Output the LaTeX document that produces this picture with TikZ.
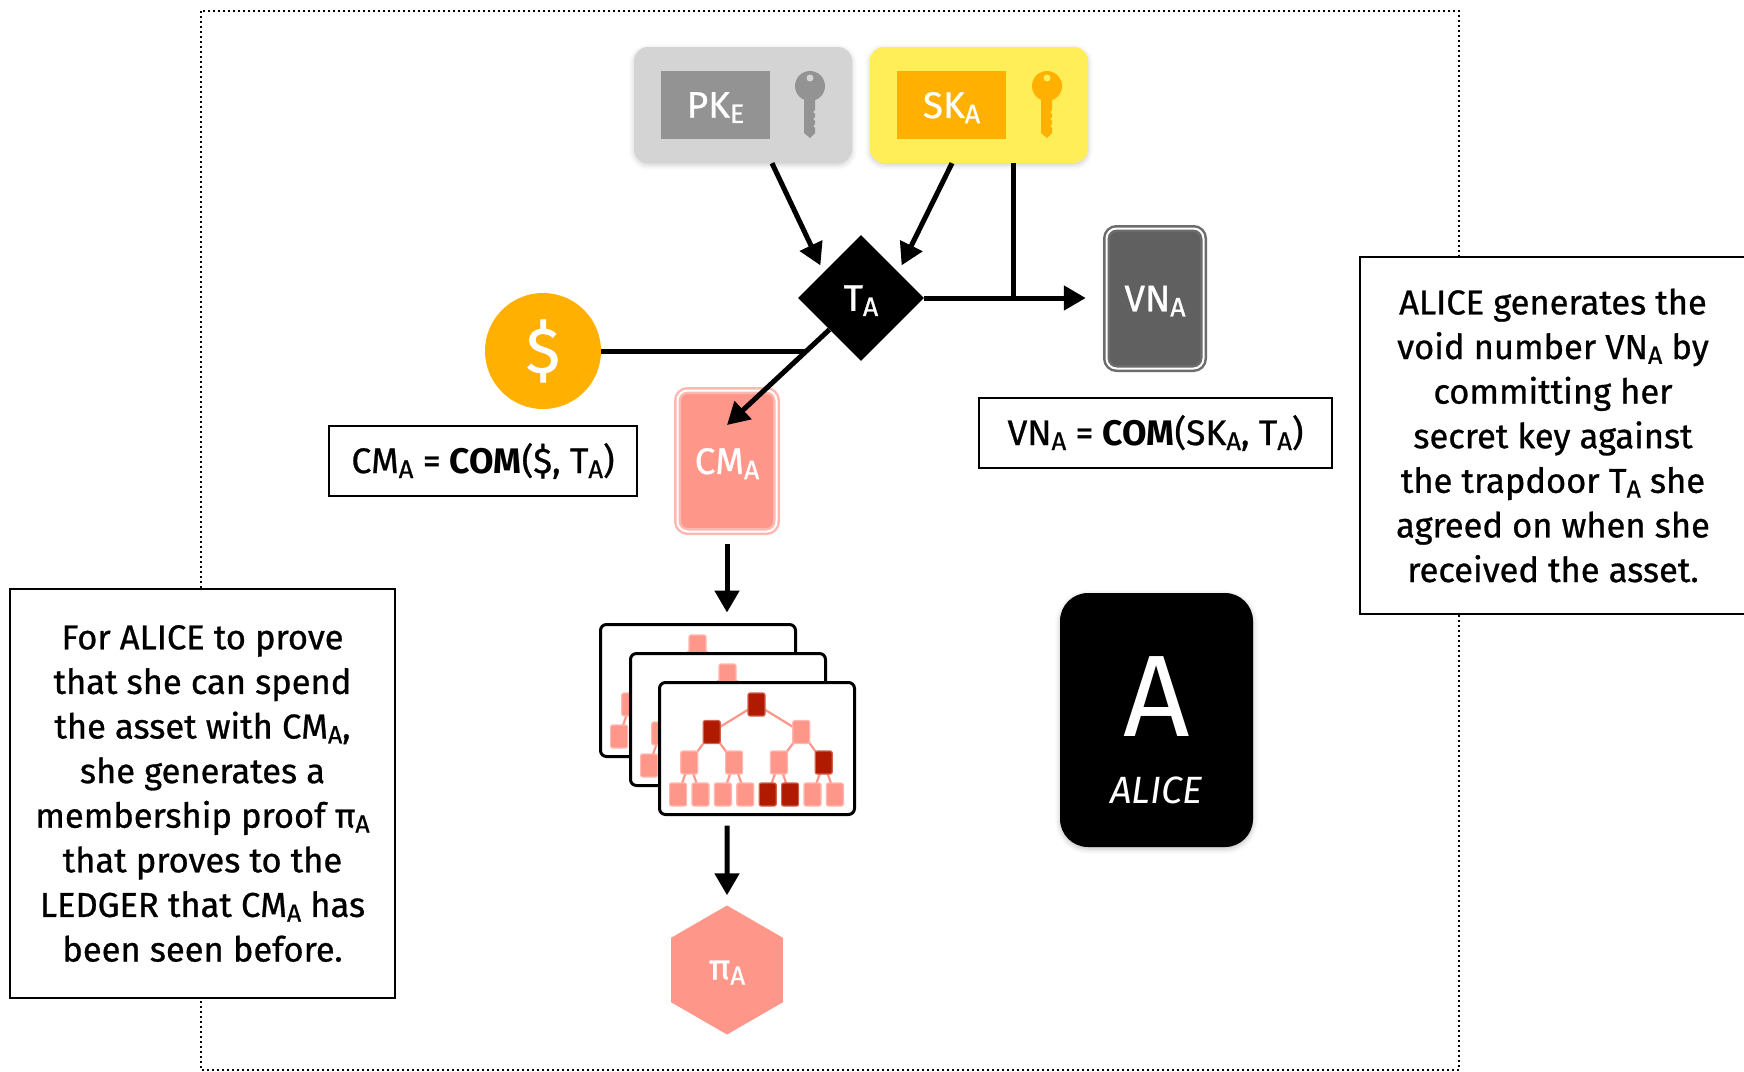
\documentclass[tikz,border=0pt]{standalone}
\usepackage{fontspec}
\setmainfont{Fira Sans}[UprightFeatures={FakeBold=0.8}]
\newfontfamily\plainfont{Fira Sans}
\usetikzlibrary{arrows.meta,calc,positioning,shapes.geometric,shadows.blur}

\definecolor{pkbg}{HTML}{D4D4D4}
\definecolor{pkgray}{HTML}{939393}
\definecolor{skbg}{HTML}{FFEE58}
\definecolor{gold}{HTML}{FFB000}
\definecolor{salmon}{HTML}{FF968A}
\definecolor{salmonedge}{HTML}{FFB8B0}
\definecolor{deepred}{HTML}{B01A00}
\definecolor{deepedge}{HTML}{D0604E}
\definecolor{vngray}{HTML}{606060}
\definecolor{vnedge}{HTML}{6C6C6C}

% small lowered index letter
\newcommand{\idx}[1]{\raisebox{-0.14em}{\scalebox{0.72}{#1}}}

\begin{document}
\begin{tikzpicture}[x=1pt,y=-1pt,>={Triangle[length=22pt,width=24pt]},
  wire/.style={line width=5pt},
  keybox/.style={rounded corners=14pt,minimum width=218pt,minimum height=116pt,
    blur shadow={shadow xshift=0pt,shadow yshift=-2pt,shadow blur radius=5pt,shadow opacity=20}},
  keytag/.style={minimum width=109pt,minimum height=68pt,text depth=0pt,text=white,font=\fontsize{37}{40}\selectfont},
  card/.style={rounded corners=10pt,line width=2.5pt,double=white,double distance=2pt,
    text depth=0pt,text=white,font=\fontsize{37}{40}\selectfont},
  formula/.style={draw,line width=2.5pt,minimum height=70pt,font=\fontsize{35.5}{40}\selectfont},
  note/.style={draw,line width=2.5pt,fill=white,align=center,font=\fontsize{34.5}{44.6}\selectfont},
  treecard/.style={draw,fill=white,line width=3pt,rounded corners=6pt,minimum width=195pt,minimum height=132pt},
  leaf/.style={draw=salmonedge,fill=salmon,line width=1.2pt,rounded corners=2pt,inner sep=0pt,
    minimum width=17pt,minimum height=23pt},
  branch/.style={draw=salmon,line width=2.2pt}]

\useasboundingbox (0,0) rectangle (1744,1071);

\draw[line width=2.2pt,dash pattern=on 2pt off 3pt] (201,11) rectangle (1459,1070);

% public and secret key
\node[keybox,fill=pkbg] (pk) at (743,105) {};
\node[keytag,fill=pkgray] (pktag) at (715.5,105) {PK\idx{E}};
\node[keybox,fill=skbg] (sk) at (979,105) {};
\node[keytag,fill=gold] (sktag) at (951.5,105) {SK\idx{A}};
\foreach \kx/\kc/\kb in {810/pkgray/pkbg, 1047/gold/skbg}{
  \fill[\kc] (\kx,86) circle (15);
  \fill[\kc] (\kx-6,98) -- (\kx+5,98) -- (\kx+5,110) -- (\kx+3,112) -- (\kx+5,114) -- (\kx+5,117)
    -- (\kx+3,119) -- (\kx+5,121) -- (\kx+5,124) -- (\kx+3,126) -- (\kx+5,128) -- (\kx+5,133)
    -- (\kx,138) -- (\kx-6,133) -- cycle;
  \fill[\kb] (\kx,78) circle (3.5);
}

% trapdoor
\node[diamond,fill=black,inner sep=0pt,minimum width=126pt,minimum height=126pt,text depth=0pt,
  text=white,font=\fontsize{37}{40}\selectfont] (t) at (861,298) {T\idx{A}};

\node[card,draw=vnedge,fill=vngray,minimum width=97pt,minimum height=140pt] (vn) at (1155,298.5) {VN\idx{A}};
\node[formula,minimum width=353pt] (vnf) at (1155.5,433) {VN\idx{A} = \textbf{COM}(SK\idx{A}, T\idx{A})};

\node[circle,fill=gold,minimum size=116pt,text=white,font=\fontsize{64}{66}\selectfont] (dollar) at (543,351) {\$};

\node[card,draw=salmonedge,fill=salmon,minimum width=99pt,minimum height=141pt] (cm) at (727,461) {CM\idx{A}};
\node[formula,minimum width=308pt] (cmf) at (483,461) {CM\idx{A} = \textbf{COM}(\$, T\idx{A})};

\draw[wire,->] ($(pk.south)+(29,0)$) -- ($(t.135)+(-9,-1)$);
\draw[wire,->] ($(sk.south)+(-27,0)$) -- ($(t.45)+(9,-1)$);
\coordinate (skfoot) at ($(sk.south)+(34,0)$);
\draw[wire] (skfoot) -- (skfoot |- t.east);
\draw[wire,->,shorten >=19.5pt] (t.east) -- (t.east -| vn.west);

\coordinate (cmtip) at ($(cm.center)+(0,-36)$);
\coordinate (mid) at ($(t.225)!0.225!(cmtip)$);
\draw[wire] (dollar.east) -- (dollar.east -| mid);
\draw[wire,->] (t.225) -- (cmtip);

% stacked merkle trees
\foreach \dx/\dy/\hot/\hotedge [count=\i] in {0/0/salmon/salmonedge, 30/29/salmon/salmonedge, 59/58/deepred/deepedge}{
  \begin{scope}[shift={(599+\dx,623+\dy)}]
    \node[treecard] (tree\i) at (99,67.5) {};
    \foreach \px/\py/\cy/\d in {98.5/23.5/51/44.8, 53.7/51/81.5/22.4, 143.3/51/81.5/22.4,
        31.3/81.5/113.5/11.2, 76.1/81.5/113.5/11.2, 120.9/81.5/113.5/11.2, 165.7/81.5/113.5/11.2}
      \draw[branch] (\px-\d,\cy) -- (\px,\py) -- (\px+\d,\cy);
    \foreach \bx/\by in {143.3/51, 31.3/81.5, 76.1/81.5, 120.9/81.5, 20.1/113.5, 42.5/113.5,
        64.9/113.5, 87.3/113.5, 154.5/113.5, 176.9/113.5}
      \node[leaf] at (\bx,\by) {};
    \foreach \bx/\by in {98.5/23.5, 53.7/51, 165.7/81.5, 109.7/113.5, 132.1/113.5}
      \node[leaf,fill=\hot,draw=\hotedge] at (\bx,\by) {};
  \end{scope}
}

\node[regular polygon,regular polygon sides=6,shape border rotate=30,fill=salmon,inner sep=0pt,
  minimum size=129pt,text depth=0pt,text=white,font=\fontsize{36}{40}\selectfont] (pi) at (727,970) {π\idx{A}};

\draw[wire,->,shorten <=11.5pt,shorten >=10.5pt] (cm.south) -- (cm.south |- tree1.north);
\draw[wire,->,shorten <=9.5pt,shorten >=10pt] (tree3.south -| pi) -- (pi.north);

% ALICE
\node[fill=black,rounded corners=28pt,minimum width=193pt,minimum height=254pt,
  blur shadow={shadow xshift=0pt,shadow yshift=-2pt,shadow blur radius=5pt,shadow opacity=25}] (alice) at (1156.5,720) {};
\node[text=white,font=\plainfont\fontsize{116}{118}\selectfont] (alicea) at (1156.5,697) {A};
\node[text=white,font=\plainfont\fontsize{38}{40}\selectfont\itshape] (alicename) at (1156.5,790) {ALICE};

\node[note,minimum width=385pt,minimum height=409pt] (leftnote) at (202.5,793.5)
  {For ALICE to prove\\ that she can spend\\ the asset with CM\idx{A},\\ she generates a\\
   membership proof π\idx{A}\\ that proves to the\\ LEDGER that CM\idx{A} has\\ been seen before.};
\node[note,minimum width=386pt,minimum height=357pt] (rightnote) at (1553,435.5)
  {ALICE generates the\\ void number VN\idx{A} by\\ committing her\\ secret key against\\
   the trapdoor T\idx{A} she\\ agreed on when she\\ received the asset.};

\end{tikzpicture}
\end{document}
